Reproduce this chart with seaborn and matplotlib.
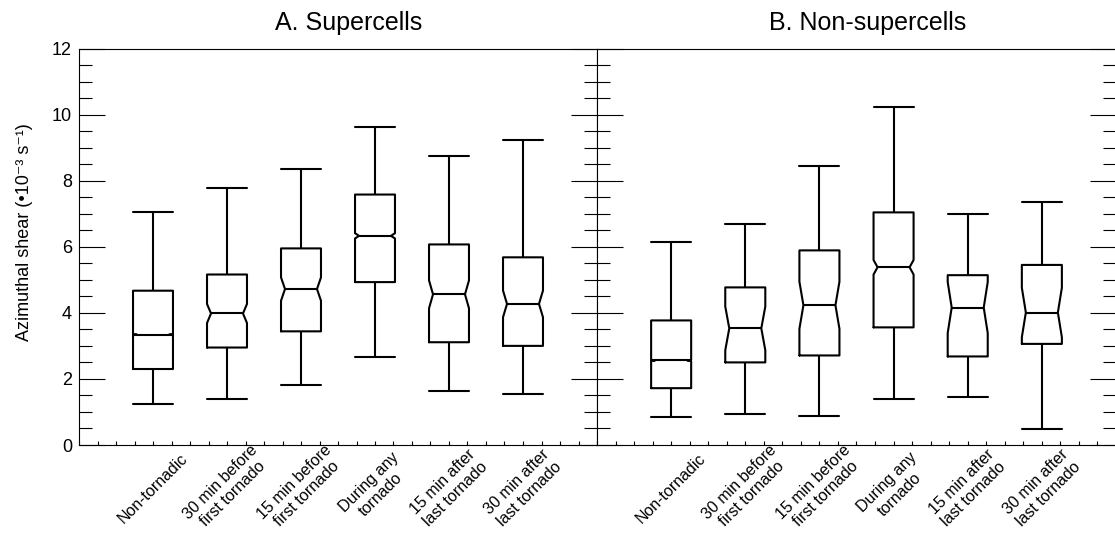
import numpy as np
import pandas as pd
import matplotlib
matplotlib.use("Agg")
import matplotlib.pyplot as plt
import seaborn as sns
from matplotlib.ticker import MultipleLocator

# ---------------- data ----------------
categories = ["Non-tornadic", "30 min before\nfirst tornado", "15 min before\nfirst tornado",
              "During any\ntornado", "15 min after\nlast tornado", "30 min after\nlast tornado"]
panel_titles = ["A. Supercells", "B. Non-supercells"]
ylabel = "Azimuthal shear (\u202210\u207b\u00b3 s\u207b\u00b9)"

sup_min = [1.24, 1.40, 1.82, 2.66, 1.63, 1.55]
sup_q1 = [2.30, 2.95, 3.44, 4.93, 3.11, 3.00]
sup_med = [3.34, 3.98, 4.72, 6.33, 4.56, 4.27]
sup_q3 = [4.67, 5.16, 5.95, 7.58, 6.07, 5.68]
sup_max = [7.05, 7.79, 8.36, 9.62, 8.74, 9.23]
sup_notch = [0.02, 0.29, 0.35, 0.08, 0.42, 0.40]   # half-height of notch (median CI)

non_min = [0.84, 0.95, 0.88, 1.39, 1.46, 0.48]
non_q1 = [1.72, 2.50, 2.71, 3.56, 2.68, 3.06]
non_med = [2.56, 3.53, 4.23, 5.38, 4.16, 4.01]
non_q3 = [3.77, 4.77, 5.89, 7.04, 5.14, 5.45]
non_max = [6.15, 6.69, 8.43, 10.24, 7.00, 7.36]
non_notch = [0.02, 0.67, 0.72, 0.22, 0.80, 0.73]


def build_samples(mins, q1s, meds, q3s, maxs, notches):
    """Sample table whose quartiles/extremes/median CI reproduce the read statistics."""
    frames = []
    for cat, lo, a, m, b, hi, h in zip(categories, mins, q1s, meds, q3s, maxs, notches):
        n = (1.57 * (b - a) / h) ** 2
        k = max(1, int(round((n - 1) / 4)))
        vals = np.concatenate([[lo], np.full(k, a), np.full(k, m), np.full(k, b), np.full(k, hi)])
        frames.append(pd.DataFrame({"category": cat, "value": vals}))
    return pd.concat(frames, ignore_index=True)


datasets = [build_samples(sup_min, sup_q1, sup_med, sup_q3, sup_max, sup_notch),
            build_samples(non_min, non_q1, non_med, non_q3, non_max, non_notch)]

# ---------------- style ----------------
sns.set_style("ticks")
plt.rcParams["font.family"] = ["Liberation Sans", "DejaVu Sans"]
plt.rcParams["text.color"] = "black"
plt.rcParams["axes.labelcolor"] = "black"
plt.rcParams["axes.titlecolor"] = "black"

W, H = 1115, 536
fig = plt.figure(figsize=(W / 100, H / 100), dpi=100)
left, right, bottom, top = 79 / W, 1116 / W, 1 - 445 / H, 1 - 48.5 / H
mid = 597 / W
ax1 = fig.add_axes([left, bottom, mid - left, top - bottom])
ax2 = fig.add_axes([mid, bottom, right - mid, top - bottom], sharey=ax1)


def tune_notches(ax, frac=0.10):
    lines = list(ax.lines)
    boxes = [l for l in lines if len(l.get_xdata()) == 11]
    info = []
    for b in boxes:
        x = np.asarray(b.get_xdata(), dtype=float).copy()
        y = np.asarray(b.get_ydata(), dtype=float)
        bl, br = x[0], x[1]
        w = br - bl
        x[3] = br - frac * w
        x[8] = bl + frac * w
        b.set_xdata(x)
        info.append(((bl + br) / 2, bl, br, x[8], x[3], y[3]))
    for l in lines:
        x = np.asarray(l.get_xdata(), dtype=float)
        y = np.asarray(l.get_ydata(), dtype=float)
        if len(x) == 2 and y[0] == y[1] and x[0] != x[1]:
            c = x.mean()
            for cx, bl, br, nl, nr, med in info:
                if abs(c - cx) < 1e-6:
                    if abs(y[0] - med) < 1e-9:
                        l.set_xdata([nl, nr])
                    else:
                        l.set_xdata([bl, br])


for i, (ax, df, title) in enumerate(zip([ax1, ax2], datasets, panel_titles)):
    sns.boxplot(data=df, x="category", y="value", order=categories, ax=ax,
                notch=True, whis=(0, 100), fill=False, color="black",
                linecolor="black", linewidth=1.5, width=0.54, showfliers=False)
    tune_notches(ax)
    ax.set_xlim(-1, 6)
    ax.set_ylim(0, 12)
    ax.set_xlabel("")
    ax.set_ylabel("")
    ax.set_title(title, fontsize=18, pad=13, x=0.521, color="black")
    for s in ax.spines.values():
        s.set_visible(True)
        s.set_linewidth(0.8)
        s.set_color("black")
    ax.yaxis.set_major_locator(MultipleLocator(2))
    ax.yaxis.set_minor_locator(MultipleLocator(0.5))
    ax.xaxis.set_minor_locator(MultipleLocator(0.25))
    ax.tick_params(axis="y", which="major", direction="in", length=18.7, width=0.8,
                   left=True, right=True, labelsize=13, pad=5, colors="black")
    ax.tick_params(axis="y", which="minor", direction="in", length=9.4, width=0.8,
                   left=True, right=True, colors="black")
    ax.tick_params(axis="x", which="both", direction="in", length=3, width=0.8,
                   bottom=True, top=False, colors="black")
    ax.tick_params(axis="x", which="major", pad=31)
    ax.set_xticks(range(len(categories)))
    ax.set_xticklabels(categories, rotation=45, ha="center", va="center",
                       rotation_mode="anchor", fontsize=11.5, multialignment="center")
    if i == 1:
        ax.tick_params(axis="y", which="both", labelleft=False)

ax1.set_ylabel(ylabel, fontsize=13, color="black")
ax1.yaxis.set_label_coords(-0.0888, 0.537)

fig.savefig("out.png", dpi=100)
